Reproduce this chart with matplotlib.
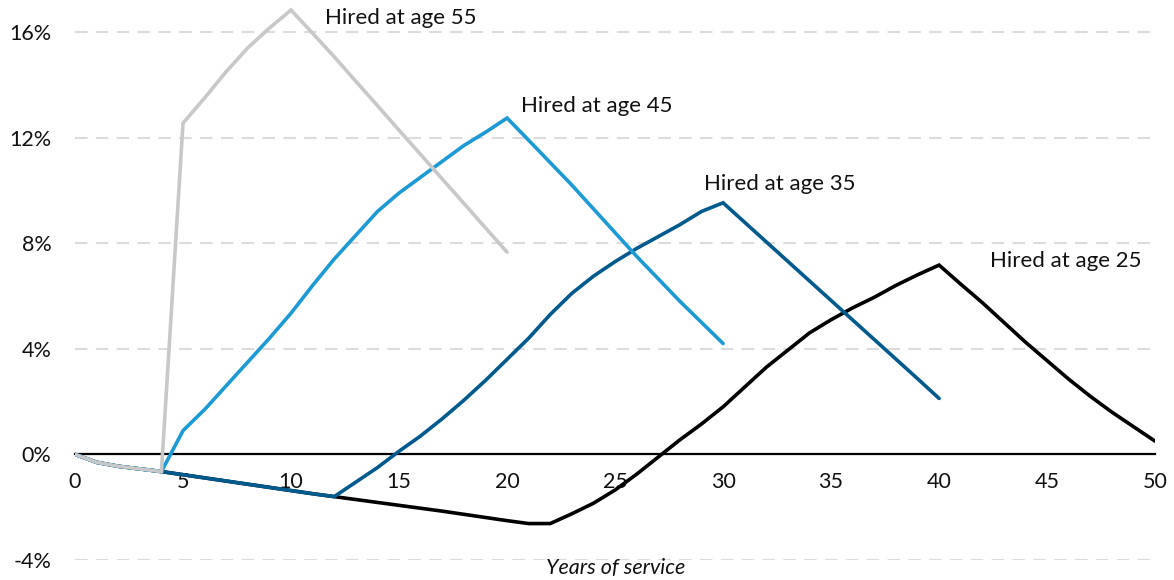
import numpy as np
import matplotlib.pyplot as plt
from matplotlib.ticker import FuncFormatter

plt.rcParams['font.family'] = ['Lato', 'DejaVu Sans']

# Years of service and the change (%) for each hiring age
years = np.arange(0, 51)

base = [0.0, -0.3, -0.45, -0.55, -0.65, -0.77, -0.89, -1.01, -1.13, -1.25,
        -1.37, -1.49, -1.6, -1.71, -1.82, -1.93, -2.04, -2.15, -2.27, -2.39,
        -2.51, -2.62, -2.62]

age55_up = [12.55, 13.5, 14.5, 15.4, 16.15, 16.83, 15.95, 15.06, 14.13, 13.21,
            12.28, 11.36, 10.43, 9.51, 8.58, 7.66]                     # years 5-20
age45_up = [0.9, 1.7, 2.6, 3.5, 4.4, 5.35, 6.4, 7.4, 8.3, 9.2, 9.9, 10.5,
            11.1, 11.7, 12.2, 12.74, 11.9, 11.05, 10.2, 9.3, 8.4, 7.5, 6.65,
            5.8, 5.0, 4.2]                                             # years 5-30
age35_up = [-1.05, -0.5, 0.12, 0.7, 1.35, 2.05, 2.8, 3.6, 4.4, 5.3, 6.1, 6.75,
            7.3, 7.8, 8.25, 8.7, 9.2, 9.53, 8.79, 8.05, 7.31, 6.57, 5.83, 5.09,
            4.35, 3.61, 2.87, 2.12]                                    # years 13-40
age25_up = [-2.25, -1.85, -1.35, -0.75, -0.1, 0.55, 1.15, 1.8, 2.55, 3.3,
            3.95, 4.6, 5.1, 5.55, 5.95, 6.4, 6.8, 7.17, 6.45, 5.75, 5.0, 4.25,
            3.55, 2.85, 2.2, 1.6, 1.05, 0.5]                           # years 23-50

age55 = base[:5] + age55_up
age45 = base[:5] + age45_up
age35 = base[:13] + age35_up
age25 = base[:23] + age25_up

labels = ["Hired at age 25", "Hired at age 35", "Hired at age 45", "Hired at age 55"]
colors = ["#000000", "#005A8E", "#1C9AD6", "#C8C8C8"]
label_pos = [(42.36, 7.32), (29.1, 10.24), (20.65, 13.2), (11.57, 16.53)]

fig = plt.figure(figsize=(11.74, 5.8), dpi=100)
ax = fig.add_axes([0.0639, 0.0345, 0.92, 0.965])

for s, c in zip([age25, age35, age45, age55], colors):
    ax.plot(years[:len(s)], s, color=c, lw=2.6, solid_capstyle='round',
            solid_joinstyle='miter', zorder=3)

for lab, (lx, ly) in zip(labels, label_pos):
    ax.text(lx, ly, lab, fontsize=16, va='center', ha='left', color='#111111')

ax.set_xlim(0, 50)
ax.set_ylim(-4, 17.2)
ax.set_xticks(range(0, 51, 5))
ax.set_yticks([-4, 0, 4, 8, 12, 16])
ax.yaxis.set_major_formatter(FuncFormatter(lambda v, p: f"{v:.0f}%"))

for g in [-4, 4, 8, 12, 16]:
    ax.axhline(g, color='#DCDCDC', lw=1.5, dashes=(6, 4), zorder=1)

for sp in ['top', 'right', 'left']:
    ax.spines[sp].set_visible(False)
ax.spines['bottom'].set_position(('data', 0))
ax.spines['bottom'].set_linewidth(1.6)
ax.spines['bottom'].set_zorder(2)
ax.tick_params(axis='both', length=0, labelsize=15.5, colors='#111111')
ax.tick_params(axis='x', pad=13)
ax.tick_params(axis='y', pad=17)

fig.text(0.524, 0.003, "Years of service", fontsize=15.5, style='italic',
         ha='center', va='bottom', color='#111111')

fig.savefig("out.png", dpi=100)
